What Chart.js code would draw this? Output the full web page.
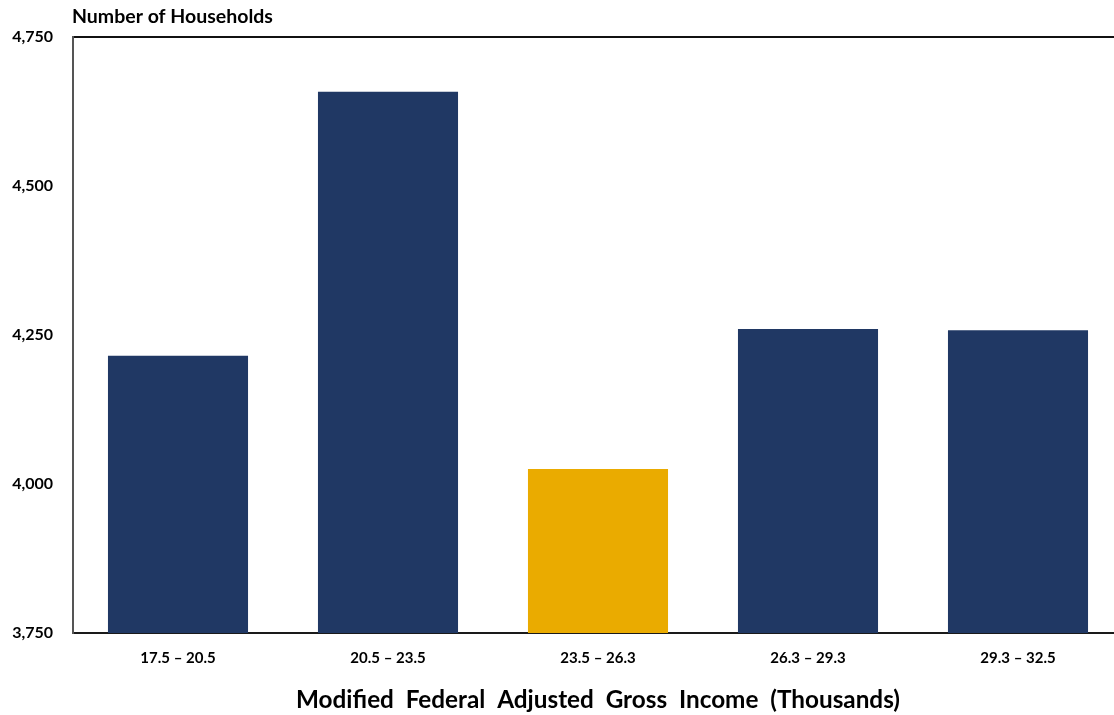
<!DOCTYPE html>
<html>
<head>
<meta charset="utf-8">
<script src="https://cdn.jsdelivr.net/npm/chart.js@4/dist/chart.umd.min.js"></script>
<style>
  html, body { margin: 0; padding: 0; background: #ffffff; overflow: hidden; }
  #wrap { position: relative; width: 1124px; height: 715px; }
</style>
</head>
<body>
<div id="wrap"><canvas id="chart"></canvas></div>
<script>
// Household counts per income band (thousands of dollars)
const incomeBands = ['17.5 – 20.5', '20.5 – 23.5', '23.5 – 26.3', '26.3 – 29.3', '29.3 – 32.5'];
const households = [4215, 4658, 4025, 4260, 4258];
const highlightBand = '23.5 – 26.3';
const yTickValues = [3750, 4000, 4250, 4500, 4750];

const NAVY = '#203864';
const GOLD = '#EAAB00';
const FONT = 'Lato, "Open Sans", sans-serif';

// Horizontal caption above the value axis, aligned with the plot's left edge
const topCaption = {
  id: 'topCaption',
  afterDraw(chart) {
    const { ctx, chartArea } = chart;
    ctx.save();
    ctx.font = `bold 19.5px ${FONT}`;
    ctx.fillStyle = '#000';
    ctx.textAlign = 'left';
    ctx.textBaseline = 'middle';
    ctx.fillText('Number of Households', chartArea.left - 1, 17);
    ctx.restore();
  }
};

new Chart(document.getElementById('chart'), {
  type: 'bar',
  data: {
    labels: incomeBands,
    datasets: [{
      data: households,
      backgroundColor: incomeBands.map(b => b === highlightBand ? GOLD : NAVY),
      borderWidth: 0,
      categoryPercentage: 1.0,
      barPercentage: 0.667
    }]
  },
  options: {
    responsive: true,
    maintainAspectRatio: false,
    animation: false,
    layout: { padding: { top: 37, left: 0, right: 1, bottom: 0 } },
    plugins: {
      legend: { display: false },
      tooltip: { enabled: false }
    },
    scales: {
      x: {
        afterFit(scale) { scale.height = 82; },
        grid: { display: false, drawTicks: false },
        border: { display: true, color: '#1a1a1a', width: 2 },
        ticks: {
          color: '#000',
          font: { family: FONT, size: 15, weight: 'bold' },
          padding: 16
        },
        title: {
          display: true,
          text: 'Modified  Federal  Adjusted  Gross  Income  (Thousands)',
          color: '#000',
          font: { family: FONT, size: 24.3, weight: 'bold' },
          padding: { top: 17, bottom: 0 }
        }
      },
      y: {
        min: 3750,
        max: 4750,
        afterFit(scale) { scale.width = 73; },
        afterBuildTicks(scale) {
          scale.ticks = yTickValues.map(v => ({ value: v }));
        },
        grid: {
          drawTicks: false,
          lineWidth: 2,
          color: ctx => (ctx.tick && ctx.tick.value === 4750) ? '#111' : 'rgba(0,0,0,0)'
        },
        border: { display: true, color: '#555', width: 2 },
        ticks: {
          color: '#000',
          padding: 20,
          font: { family: FONT, size: 16, weight: 'bold' },
          callback: v => v.toLocaleString('en-US')
        }
      }
    }
  },
  plugins: [topCaption]
});
</script>
</body>
</html>
